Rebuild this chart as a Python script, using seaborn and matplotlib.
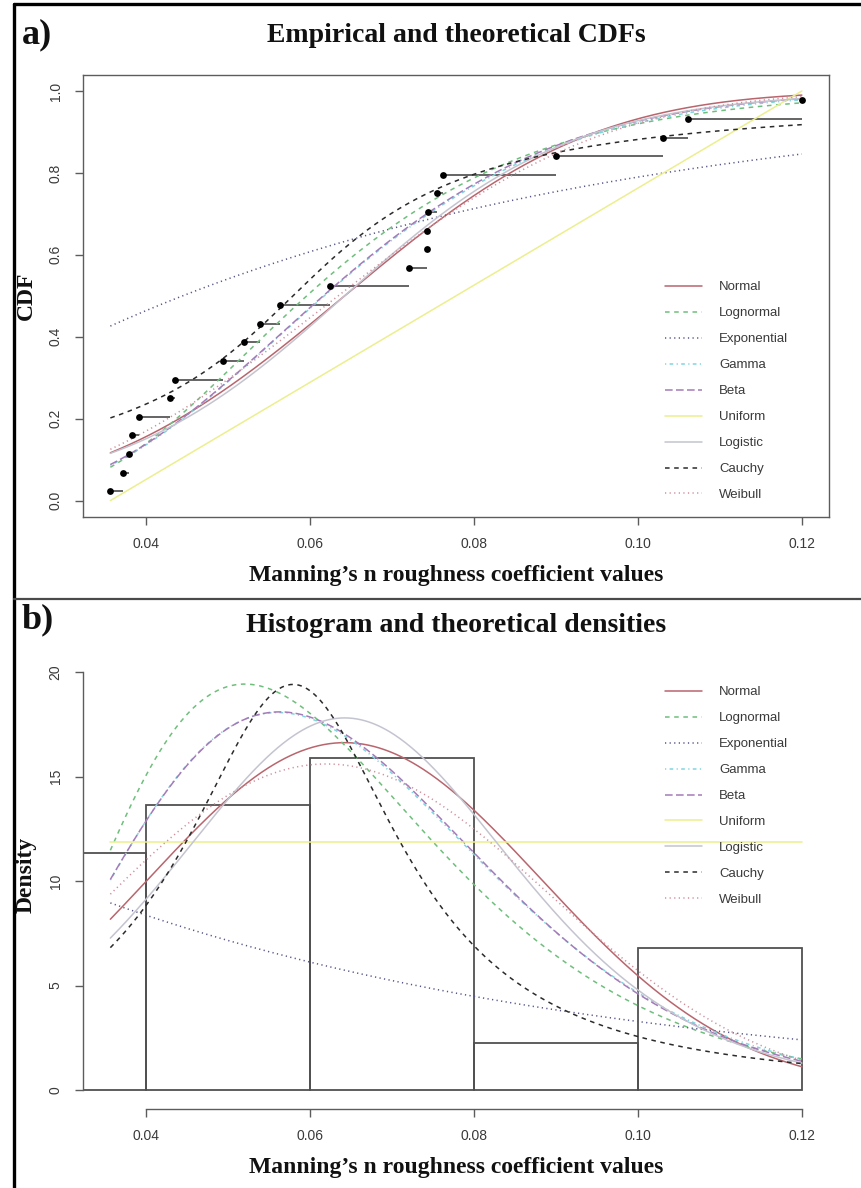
import math
import numpy as np
import matplotlib
matplotlib.use("Agg")
import matplotlib.pyplot as plt
from matplotlib.lines import Line2D
import seaborn as sns

# Observed Manning's n roughness coefficients (sorted)
manning_n = [0.0356, 0.0372, 0.0379, 0.0383, 0.0391, 0.0429, 0.0435, 0.0494,
             0.0519, 0.0539, 0.0563, 0.0624, 0.0721, 0.0742, 0.0743, 0.0744,
             0.0755, 0.0762, 0.0900, 0.1031, 0.1061, 0.1200]

hist_breaks = [0.02, 0.04, 0.06, 0.08, 0.10, 0.12]
x_ticks = [0.04, 0.06, 0.08, 0.10, 0.12]
x_tick_labels = ["0.04", "0.06", "0.08", "0.10", "0.12"]
cdf_ticks = [0.0, 0.2, 0.4, 0.6, 0.8, 1.0]
cdf_tick_labels = ["0.0", "0.2", "0.4", "0.6", "0.8", "1.0"]
dens_ticks = [0, 5, 10, 15, 20]
dens_tick_labels = ["0", "5", "10", "15", "20"]

dist_names = ["Normal", "Lognormal", "Exponential", "Gamma", "Beta",
              "Uniform", "Logistic", "Cauchy", "Weibull"]

# Fitted distribution parameters
normal_mean, normal_sd = 0.0642, 0.0240
lnorm_meanlog, lnorm_sdlog = -2.8205, 0.369
exp_rate = 15.6
gamma_shape, gamma_rate = 7.6, 117.8
beta_a, beta_b = 7.2, 105.0
unif_min, unif_max = 0.0356, 0.1200
logis_loc, logis_scale = 0.0642, 0.01404
cauchy_loc, cauchy_scale = 0.0579, 0.0164
weibull_shape, weibull_scale = 2.85, 0.0721

# Line appearance for each fitted law
dist_colors = ["#b9656d", "#6fbf7c", "#55558a", "#7fd6df", "#a47bb8",
               "#ecef8e", "#c4c4d0", "#2b2b2b", "#cf8f9b"]
dist_styles = ["-", (0, (3, 3)), (0, (0.8, 2.2)), (0, (0.8, 2.2, 2.4, 2.2)),
               (0, (5, 2.2)), "-", "-", (0, (3, 3)), (0, (0.8, 2.2))]

SQ2PI = math.sqrt(2 * math.pi)
erf = np.vectorize(math.erf)


def densities(x):
    x = np.asarray(x, dtype=float)
    e = np.exp(-(x - logis_loc) / logis_scale)
    lbeta = math.lgamma(beta_a) + math.lgamma(beta_b) - math.lgamma(beta_a + beta_b)
    return {
        "Normal": np.exp(-0.5 * ((x - normal_mean) / normal_sd) ** 2) / (normal_sd * SQ2PI),
        "Lognormal": np.exp(-(np.log(x) - lnorm_meanlog) ** 2 / (2 * lnorm_sdlog ** 2))
        / (x * lnorm_sdlog * SQ2PI),
        "Exponential": exp_rate * np.exp(-exp_rate * x),
        "Gamma": np.exp(gamma_shape * math.log(gamma_rate) + (gamma_shape - 1) * np.log(x)
                        - gamma_rate * x - math.lgamma(gamma_shape)),
        "Beta": np.exp((beta_a - 1) * np.log(x) + (beta_b - 1) * np.log1p(-x) - lbeta),
        "Uniform": np.where((x >= unif_min) & (x <= unif_max), 1.0 / (unif_max - unif_min), 0.0),
        "Logistic": e / (logis_scale * (1 + e) ** 2),
        "Cauchy": 1.0 / (math.pi * cauchy_scale * (1 + ((x - cauchy_loc) / cauchy_scale) ** 2)),
        "Weibull": (weibull_shape / weibull_scale) * (x / weibull_scale) ** (weibull_shape - 1)
        * np.exp(-(x / weibull_scale) ** weibull_shape),
    }


def integrated_cdf(name, x):
    # cumulative integral of the density from 0
    g = np.linspace(1e-9, max(x), 30001)
    d = densities(g)[name]
    c = np.concatenate([[0.0], np.cumsum(0.5 * (d[1:] + d[:-1]) * np.diff(g))])
    return np.interp(x, g, c)


def distributions(x):
    x = np.asarray(x, dtype=float)
    return {
        "Normal": 0.5 * (1 + erf((x - normal_mean) / (normal_sd * math.sqrt(2)))),
        "Lognormal": 0.5 * (1 + erf((np.log(x) - lnorm_meanlog) / (lnorm_sdlog * math.sqrt(2)))),
        "Exponential": 1 - np.exp(-exp_rate * x),
        "Gamma": integrated_cdf("Gamma", x),
        "Beta": integrated_cdf("Beta", x),
        "Uniform": np.clip((x - unif_min) / (unif_max - unif_min), 0, 1),
        "Logistic": 1 / (1 + np.exp(-(x - logis_loc) / logis_scale)),
        "Cauchy": 0.5 + np.arctan((x - cauchy_loc) / cauchy_scale) / math.pi,
        "Weibull": 1 - np.exp(-(x / weibull_scale) ** weibull_shape),
    }


sns.set_style("white")
plt.rcParams["font.family"] = ["Liberation Sans", "DejaVu Sans"]

W, H = 862, 1188
fig = plt.figure(figsize=(W / 100, H / 100), dpi=100)
fig.patch.set_facecolor("white")


def fx(px):
    return px / W


def fy(py):
    return 1 - py / H


n = len(manning_n)
ecdf_prob = [(i + 0.5) / n for i in range(n)]
xmin, xmax = min(manning_n), max(manning_n)
xlim = (xmin - 0.04 * (xmax - xmin), xmax + 0.04 * (xmax - xmin))
grid = np.linspace(xmin, xmax, 500)

axis_col = "#5c5c5c"
tick_text = "#3a3a3a"
serif = ["Liberation Serif", "DejaVu Serif"]
legend_kw = dict(loc="upper left", frameon=False, fontsize=9.5, handlelength=2.8,
                 handletextpad=1.3, labelspacing=1.04, borderpad=0, borderaxespad=0)

# ---------- a) Empirical and theoretical CDFs ----------
ax_a = fig.add_axes([fx(82.7), fy(517), fx(829.5) - fx(82.7), fy(74.6) - fy(517)])
ax_a.hlines(ecdf_prob[:-1], manning_n[:-1], manning_n[1:], color="#4a4a4a", lw=1.2, zorder=2)
sns.scatterplot(x=manning_n, y=ecdf_prob, ax=ax_a, color="black", s=24,
                linewidth=0, zorder=6, legend=False)
cdfs = distributions(grid)
for name, col, ls in zip(dist_names, dist_colors, dist_styles):
    sns.lineplot(x=grid, y=cdfs[name], ax=ax_a, color=col, linewidth=1.1,
                 linestyle=ls, label=name, zorder=3)
ax_a.set_xlim(*xlim)
ax_a.set_ylim(-0.04, 1.04)
ax_a.set_xticks(x_ticks, x_tick_labels)
ax_a.set_yticks(cdf_ticks, cdf_tick_labels)
ax_a.set_xlabel("")
ax_a.set_ylabel("")
for sp in ax_a.spines.values():
    sp.set_visible(True)
    sp.set_color(axis_col)
    sp.set_linewidth(1.0)
leg_a = ax_a.legend(bbox_to_anchor=(0.7797, 0.533), **legend_kw)
for t in leg_a.get_texts():
    t.set_color(tick_text)

# ---------- b) Histogram and theoretical densities ----------
ax_b = fig.add_axes([fx(82.7), fy(1109.3), fx(829.5) - fx(82.7), fy(638) - fy(1109.3)])
sns.histplot(x=manning_n, bins=hist_breaks, stat="density", fill=False,
             color="#505050", linewidth=1.3, ax=ax_b, zorder=2)
dens = densities(grid)
for name, col, ls in zip(dist_names, dist_colors, dist_styles):
    sns.lineplot(x=grid, y=dens[name], ax=ax_b, color=col, linewidth=1.1,
                 linestyle=ls, label=name, zorder=3)
ax_b.set_xlim(*xlim)
ax_b.set_ylim(-0.923, 21.63)
ax_b.set_xticks(x_ticks, x_tick_labels)
ax_b.set_yticks(dens_ticks, dens_tick_labels)
ax_b.set_xlabel("")
ax_b.set_ylabel("")
for side in ("top", "right"):
    ax_b.spines[side].set_visible(False)
for side in ("left", "bottom"):
    ax_b.spines[side].set_visible(True)
    ax_b.spines[side].set_color(axis_col)
    ax_b.spines[side].set_linewidth(1.0)
ax_b.spines["bottom"].set_bounds(x_ticks[0], x_ticks[-1])
ax_b.spines["left"].set_bounds(dens_ticks[0], dens_ticks[-1])
leg_b = ax_b.legend(bbox_to_anchor=(0.7797, 0.898), **legend_kw)
for t in leg_b.get_texts():
    t.set_color(tick_text)

for ax in (ax_a, ax_b):
    ax.tick_params(axis="both", which="both", direction="out", length=5.5, width=1.0,
                   color=axis_col, labelsize=10, labelcolor=tick_text, pad=9,
                   bottom=True, left=True, top=False, right=False)
    for lab in ax.get_yticklabels():
        lab.set_rotation(90)
        lab.set_va("center")
    ax.set_facecolor("white")

# ---------- titles and axis labels ----------
cx = fx((82.7 + 829.5) / 2)
fig.text(fx(22), fy(35), "a)", fontsize=26, fontweight="bold", family=serif,
         ha="left", va="center", color="#111111")
fig.text(cx, fy(35), "Empirical and theoretical CDFs", fontsize=20, fontweight="bold",
         family=serif, ha="center", va="center", color="#111111")
fig.text(cx, fy(575), "Manning\u2019s n roughness coefficient values", fontsize=17,
         fontweight="bold", family=serif, ha="center", va="center", color="#111111")
fig.text(fx(26), fy(296), "CDF", fontsize=17, fontweight="bold", family=serif,
         rotation=90, ha="center", va="center", color="#111111")

fig.text(fx(22), fy(620), "b)", fontsize=26, fontweight="bold", family=serif,
         ha="left", va="center", color="#111111")
fig.text(cx, fy(626), "Histogram and theoretical densities", fontsize=20, fontweight="bold",
         family=serif, ha="center", va="center", color="#111111")
fig.text(cx, fy(1167), "Manning\u2019s n roughness coefficient values", fontsize=17,
         fontweight="bold", family=serif, ha="center", va="center", color="#111111")
fig.text(fx(26), fy(875), "Density", fontsize=17, fontweight="bold", family=serif,
         rotation=90, ha="center", va="center", color="#111111")

# ---------- outer frame and panel divider ----------
fig.add_artist(Line2D([fx(14), fx(14)], [fy(4), 0], transform=fig.transFigure,
                      color="black", lw=2.4))
fig.add_artist(Line2D([fx(14), 1], [fy(4), fy(4)], transform=fig.transFigure,
                      color="black", lw=2.4))
fig.add_artist(Line2D([fx(14), 1], [fy(599), fy(599)], transform=fig.transFigure,
                      color="#4a4a4a", lw=1.6))

fig.savefig("out.png", dpi=100, facecolor="white")
